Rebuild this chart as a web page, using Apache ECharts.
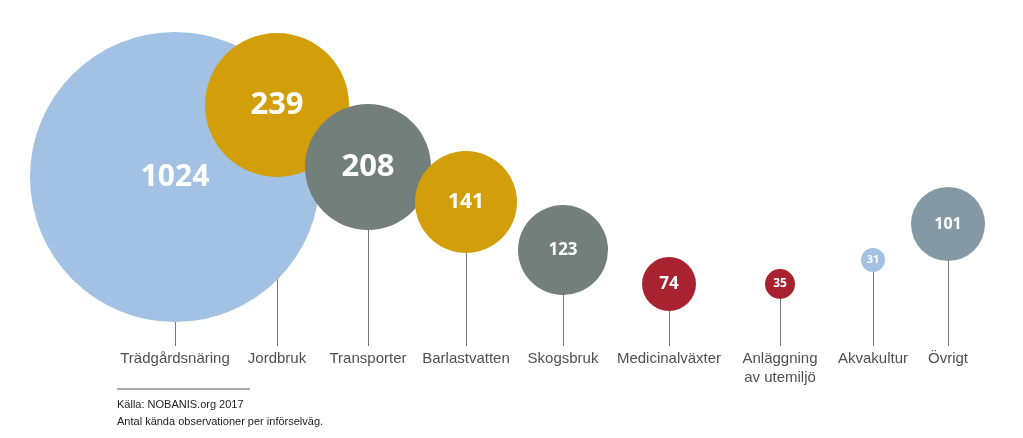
<!DOCTYPE html>
<html><head><meta charset="utf-8">
<script src="https://cdn.jsdelivr.net/npm/echarts@6/dist/echarts.min.js"></script>
<style>html,body{margin:0;background:#fff}#c{width:1023px;height:438px}</style>
</head><body><div id="c"></div>
<script>
var categories = ['Trädgårdsnäring', 'Jordbruk', 'Transporter', 'Barlastvatten', 'Skogsbruk', 'Medicinalväxter', 'Anläggning\nav utemiljö', 'Akvakultur', 'Övrigt'];
var values = [1024, 239, 208, 141, 123, 74, 35, 31, 101];
// layout (pixel space)
var xPos = [175, 277, 368, 466, 563, 669, 780, 873, 948];
var yPos = [177, 105, 167, 202, 250, 284, 284, 260, 224];
var diam = [290, 144, 126, 102, 90, 54, 30, 24, 74];
var colors = ['#a3c1e3', '#d29e0a', '#737f7a', '#d29e0a', '#737f7a', '#a8222f', '#a8222f', '#a3c1e3', '#8498a6'];
var fontSizes = [30, 31, 31, 21, 17, 17, 12, 11, 16];
var baseY = 346;

var chart = echarts.init(document.getElementById('c'));
chart.setOption({
  animation: false,
  grid: {left: 0, right: 0, top: 0, bottom: 0},
  xAxis: {type: 'value', min: 0, max: 1023, show: false},
  yAxis: {type: 'value', min: 0, max: 438, inverse: true, show: false},
  series: [
    {
      type: 'lines', coordinateSystem: 'cartesian2d', z: 1,
      lineStyle: {color: '#777', width: 1, opacity: 1},
      data: xPos.map(function (x, i) { return {coords: [[x, yPos[i]], [x, baseY]]}; })
    },
    {
      type: 'scatter', z: 2,
      data: values.map(function (v, i) {
        return {
          value: [xPos[i], yPos[i], v],
          symbolSize: diam[i],
          itemStyle: {color: colors[i], opacity: 1},
          label: {show: true, formatter: String(v), color: '#fff', fontWeight: 'bold',
            fontSize: fontSizes[i], fontFamily: 'Open Sans'}
        };
      })
    },
    {
      type: 'scatter', z: 3, symbolSize: 0, silent: true,
      data: categories.map(function (c, i) {
        return {value: [xPos[i], baseY], label: {show: true, formatter: c, position: 'bottom',
          distance: 3, color: '#222', fontSize: 15, lineHeight: 19, fontFamily: 'Liberation Sans'}};
      })
    }
  ],
  graphic: [
    {type: 'line', shape: {x1: 117, y1: 389, x2: 250, y2: 389}, style: {stroke: '#555', lineWidth: 1}},
    {type: 'text', left: 117, top: 399, style: {text: 'Källa: NOBANIS.org 2017', fill: '#222', fontSize: 11, fontFamily: 'Liberation Sans'}},
    {type: 'text', left: 117, top: 416, style: {text: 'Antal kända observationer per införselväg.', fill: '#222', fontSize: 11, fontFamily: 'Liberation Sans'}}
  ]
});
</script></body></html>
